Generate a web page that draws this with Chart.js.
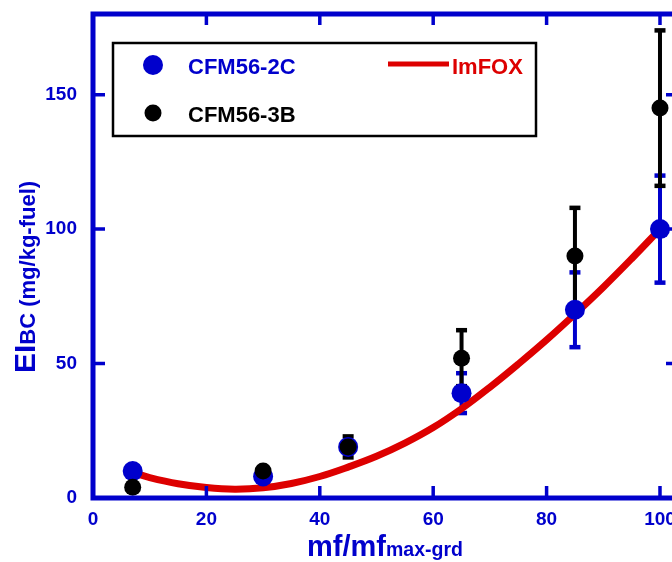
<!DOCTYPE html>
<html>
<head>
<meta charset="utf-8">
<script src="https://cdn.jsdelivr.net/npm/chart.js@4.4.0/dist/chart.umd.min.js"></script>
<style>
  html, body { margin: 0; padding: 0; background: #fff; overflow: hidden; }
  #wrap { width: 690px; height: 562px; }
</style>
</head>
<body>
<div id="wrap"><canvas id="emissionChart" width="690" height="562"></canvas></div>
<script>
const BLUE = '#0000cc';
const RED = '#dd0000';
const FONT = "'Liberation Sans', Arial, sans-serif";

// данные с графика
const thrustLevels = [7, 30, 45, 65, 85, 100];
const cfm2cValues = [10, 8, 19, 39, 70, 100];
const cfm2cErrors = [0, 0, 0, 7.5, 14, 20];
const cfm3bValues = [4, 10, 19, 52, 90, 145];
const cfm3bErrors = [0, 0, 4, 10.5, 18, 29];
const imfoxX = [7, 10, 15, 20, 25, 30, 35, 40, 45, 50, 55, 60, 65, 70, 75, 80, 85, 90, 95, 100];
const imfoxY = [9.5, 7.6, 5.3, 3.9, 3.3, 3.8, 5.4, 8, 11.5, 15.5, 20.4, 26.2, 33.2, 41.2, 49.8, 58.8, 68.4, 78.4, 89, 100];
const xTickValues = [0, 20, 40, 60, 80, 100];
const yTickValues = [0, 50, 100, 150];

const toPoints = (xs, ys) => xs.map((x, i) => ({ x, y: ys[i] }));

// Планки погрешностей (Chart.js сам их не рисует)
const errorBars = {
    id: 'errorBars',
    beforeDatasetsDraw(chart) {
        const { ctx, scales: { x, y } } = chart;
        const drawBars = (values, errors, color) => {
            ctx.save();
            ctx.strokeStyle = color;
            ctx.fillStyle = color;
            ctx.lineWidth = 4;
            thrustLevels.forEach((t, i) => {
                if (!errors[i]) return;
                const px = x.getPixelForValue(t);
                const top = y.getPixelForValue(values[i] + errors[i]);
                const bottom = y.getPixelForValue(values[i] - errors[i]);
                ctx.beginPath();
                ctx.moveTo(px, top);
                ctx.lineTo(px, bottom);
                ctx.stroke();
                ctx.fillRect(px - 5.5, top - 2, 11, 4.5);
                ctx.fillRect(px - 5.5, bottom - 2.5, 11, 4.5);
            });
            ctx.restore();
        };
        drawBars(cfm2cValues, cfm2cErrors, BLUE);
        drawBars(cfm3bValues, cfm3bErrors, '#000');
    }
};

// Рамка, внутренние засечки, подписи осей и легенда
const decorations = {
    id: 'decorations',
    afterDraw(chart) {
        const { ctx, chartArea: a, scales: { x, y } } = chart;
        ctx.save();
        ctx.strokeStyle = BLUE;
        ctx.lineWidth = 5;
        ctx.strokeRect(a.left, a.top, a.right - a.left, a.bottom - a.top);

        ctx.lineWidth = 3.5;
        ctx.beginPath();
        xTickValues.forEach(v => {
            const px = x.getPixelForValue(v);
            ctx.moveTo(px, a.bottom);
            ctx.lineTo(px, a.bottom - 12);
            ctx.moveTo(px, a.top);
            ctx.lineTo(px, a.top + 11);
        });
        yTickValues.forEach(v => {
            const py = y.getPixelForValue(v);
            ctx.moveTo(a.left, py);
            ctx.lineTo(a.left + 12, py);
            ctx.moveTo(a.right, py);
            ctx.lineTo(a.right - 11, py);
        });
        ctx.stroke();

        // подпись оси X
        ctx.fillStyle = BLUE;
        ctx.textBaseline = 'alphabetic';
        ctx.textAlign = 'left';
        ctx.font = `bold 29px ${FONT}`;
        const xMain = 'mf/mf';
        ctx.fillText(xMain, 307, 556);
        const xMainW = ctx.measureText(xMain).width;
        ctx.font = `bold 19.5px ${FONT}`;
        ctx.fillText('max-grd', 307 + xMainW, 556);

        // подпись оси Y
        ctx.save();
        ctx.translate(35, 373);
        ctx.rotate(-Math.PI / 2);
        ctx.font = `bold 30px ${FONT}`;
        ctx.fillText('EI', 0, 0);
        const eiW = ctx.measureText('EI').width;
        ctx.font = `bold 22px ${FONT}`;
        ctx.fillText('BC (mg/kg-fuel)', eiW, 0);
        ctx.restore();

        // легенда
        const [line, blue, black] = chart.data.datasets;
        ctx.strokeStyle = '#000';
        ctx.lineWidth = 2.5;
        ctx.strokeRect(113, 43, 423, 93);
        ctx.font = `bold 22px ${FONT}`;

        ctx.fillStyle = blue.backgroundColor;
        ctx.beginPath();
        ctx.arc(153, 65, blue.pointRadius, 0, Math.PI * 2);
        ctx.fill();
        ctx.fillText(blue.label, 188, 74);

        ctx.fillStyle = black.backgroundColor;
        ctx.beginPath();
        ctx.arc(153, 113, black.pointRadius, 0, Math.PI * 2);
        ctx.fill();
        ctx.fillText(black.label, 188, 122);

        ctx.strokeStyle = line.borderColor;
        ctx.lineWidth = 5;
        ctx.beginPath();
        ctx.moveTo(388, 64);
        ctx.lineTo(449, 64);
        ctx.stroke();
        ctx.fillStyle = line.borderColor;
        ctx.fillText(line.label, 452, 74);
        ctx.restore();
    }
};

const tickFont = { family: FONT, size: 19, weight: 'bold' };

const chart = new Chart(document.getElementById('emissionChart'), {
    type: 'scatter',
    data: {
        datasets: [{
            label: 'ImFOX',
            data: toPoints(imfoxX, imfoxY),
            showLine: true,
            borderColor: RED,
            backgroundColor: RED,
            borderWidth: 7,
            pointRadius: 0,
            tension: 0.4,
            order: 3
        }, {
            label: 'CFM56-2C',
            data: toPoints(thrustLevels, cfm2cValues),
            backgroundColor: BLUE,
            borderColor: BLUE,
            borderWidth: 0,
            pointRadius: 10,
            order: 2
        }, {
            label: 'CFM56-3B',
            data: toPoints(thrustLevels, cfm3bValues),
            backgroundColor: '#000',
            borderColor: '#000',
            borderWidth: 0,
            pointRadius: 8.5,
            order: 1
        }]
    },
    options: {
        responsive: false,
        animation: false,
        events: [],
        layout: { padding: { top: 14, right: 13, left: 0, bottom: 0 } },
        plugins: {
            legend: { display: false },
            tooltip: { enabled: false }
        },
        scales: {
            x: {
                type: 'linear',
                min: 0,
                max: 103,
                afterBuildTicks: s => { s.ticks = xTickValues.map(v => ({ value: v })); },
                afterFit: s => { s.height = 64; s.paddingLeft = 0; s.paddingRight = 0; },
                grid: { display: false, drawTicks: false },
                border: { display: false },
                ticks: { color: BLUE, font: tickFont, padding: 10, maxRotation: 0 }
            },
            y: {
                type: 'linear',
                min: 0,
                max: 180,
                afterBuildTicks: s => { s.ticks = yTickValues.map(v => ({ value: v })); },
                afterFit: s => { s.width = 93; s.paddingTop = 0; s.paddingBottom = 0; },
                grid: { display: false, drawTicks: false },
                border: { display: false },
                ticks: { color: BLUE, font: tickFont, padding: 16 }
            }
        }
    },
    plugins: [errorBars, decorations]
});
</script>
</body>
</html>
